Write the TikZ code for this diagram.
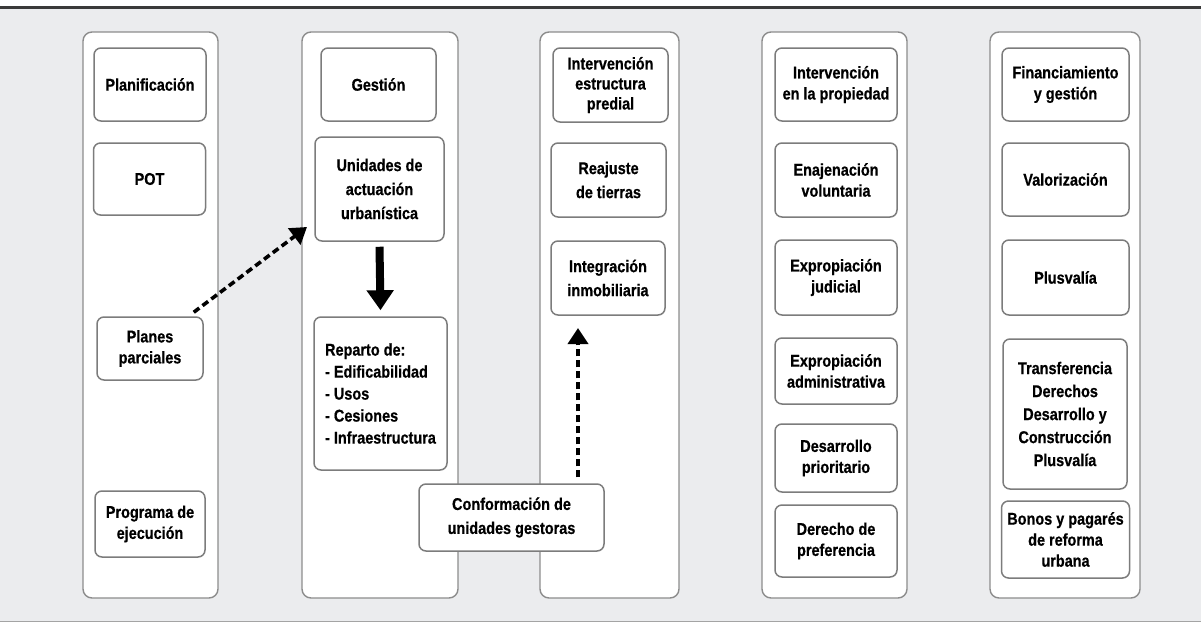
\documentclass[tikz,border=0pt]{standalone}
\usepackage{fontspec}
\setmainfont{Liberation Sans}[FakeStretch=0.85, BoldFeatures={FakeBold=0.6}]
\usetikzlibrary{arrows.meta,calc}
\definecolor{bg}{HTML}{EBECEE}
\definecolor{colborder}{HTML}{8C8C8C}
\definecolor{boxborder}{HTML}{7C7C7C}
\definecolor{topline}{HTML}{3A3A3A}
\definecolor{botline}{HTML}{A4A4A4}
\begin{document}
\begin{tikzpicture}[x=1pt,y=-1pt,
  col/.style={draw=colborder, fill=white, line width=1.4pt, rounded corners=9pt, inner sep=0pt},
  bx/.style={draw=boxborder, fill=white, line width=1.5pt, rounded corners=7pt, align=center, inner sep=0pt,
    font=\fontsize{17}{21}\selectfont\bfseries},
  dasharr/.style={line width=3.6pt, dash pattern=on 7pt off 4pt, -{Triangle[length=16pt,width=20pt]}},
  thickarr/.style={line width=8pt, -{Triangle[length=20pt,width=26pt]}},
]
\useasboundingbox (0,0) rectangle (1201,624);
\fill[bg] (0,7) rectangle (1201,621);
\draw[topline, line width=3pt] (0,7) -- (1201,7);
\draw[botline, line width=1.5pt] (0,621.5) -- (1201,621.5);

% columns
\node[col, minimum width=135pt, minimum height=566pt] (c1) at (150.5,315) {};
\node[col, minimum width=156pt, minimum height=566pt] (c2) at (380,315) {};
\node[col, minimum width=139pt, minimum height=566pt] (c3) at (609.5,315) {};
\node[col, minimum width=145pt, minimum height=566pt] (c4) at (834.5,315) {};
\node[col, minimum width=150pt, minimum height=566pt] (c5) at (1065,315) {};

% column 1
\node[bx, minimum width=112pt, minimum height=73pt] (plan) at (150,84.5) {Planificación};
\node[bx, minimum width=112pt, minimum height=72pt] (pot) at (149.5,179) {POT};
\node[bx, minimum width=106pt, minimum height=63pt] (pp) at (150,348.5) {Planes\\parciales};
\node[bx, minimum width=110pt, minimum height=66pt] (prog) at (150,524) {Programa de\\ejecución};

% column 2
\node[bx, minimum width=115pt, minimum height=73pt] (gest) at (378.5,84.5) {Gestión};
\node[bx, minimum width=129pt, minimum height=104pt, font=\fontsize{17}{24}\selectfont\bfseries] (ua) at (379.5,189) {Unidades de\\actuación\\urbanística};
\node[bx, minimum width=133pt, minimum height=153pt, align=left, font=\fontsize{17}{22}\selectfont\bfseries] (rep) at (380.5,393.5) {Reparto de:\\- Edificabilidad\\- Usos\\- Cesiones\\- Infraestructura};

% column 3
\node[bx, minimum width=115pt, minimum height=74pt, font=\fontsize{17}{20}\selectfont\bfseries] (iep) at (610.5,85) {Intervención\\estructura\\predial};
\node[bx, minimum width=115pt, minimum height=74pt, font=\fontsize{17}{24}\selectfont\bfseries] (rt) at (608.5,180) {Reajuste\\de tierras};
\node[bx, minimum width=114pt, minimum height=74pt, font=\fontsize{17}{24}\selectfont\bfseries] (ii) at (608,278) {Integración\\inmobiliaria};

% spanning box
\node[bx, minimum width=185pt, minimum height=67pt, font=\fontsize{17}{24}\selectfont\bfseries] (conf) at (511.5,517.5) {Conformación de\\unidades gestoras};

% column 4
\node[bx, minimum width=122pt, minimum height=73pt] (ip) at (836,84.5) {Intervención\\en la propiedad};
\node[bx, minimum width=122pt, minimum height=74pt] (ev) at (836,180) {Enajenación\\voluntaria};
\node[bx, minimum width=122pt, minimum height=75pt] (ej) at (836,277.5) {Expropiación\\judicial};
\node[bx, minimum width=122pt, minimum height=66pt] (ea) at (836,371) {Expropiación\\administrativa};
\node[bx, minimum width=122pt, minimum height=68pt] (dp) at (836,458) {Desarrollo\\prioritario};
\node[bx, minimum width=122pt, minimum height=72pt] (dpf) at (836,541) {Derecho de\\preferencia};

% column 5
\node[bx, minimum width=127pt, minimum height=73pt] (fin) at (1065.5,84.5) {Financiamiento\\y gestión};
\node[bx, minimum width=127pt, minimum height=73pt] (val) at (1065.5,179.5) {Valorización};
\node[bx, minimum width=127pt, minimum height=75pt] (plus) at (1065.5,277.5) {Plusvalía};
\node[bx, minimum width=124pt, minimum height=150pt, font=\fontsize{17}{23}\selectfont\bfseries] (tdd) at (1065,414) {Transferencia\\Derechos\\Desarrollo y\\Construcción\\Plusvalía};
\node[bx, minimum width=128pt, minimum height=77pt] (bon) at (1065.5,539.5) {Bonos y pagarés\\de reforma\\urbana};

% connectors
\coordinate (dtip) at (307,227);
\draw[dasharr] ($(pp.north east)+(-10,-4)$) -- (dtip);
\draw[thickarr] ($(ua.south)+(0,5)$) -- ($(rep.north)+(0,-6)$);
\coordinate (utip) at (578,328);
\draw[dasharr] ($(conf.north -| utip)+(0,-6)$) -- (utip);
\end{tikzpicture}
\end{document}
